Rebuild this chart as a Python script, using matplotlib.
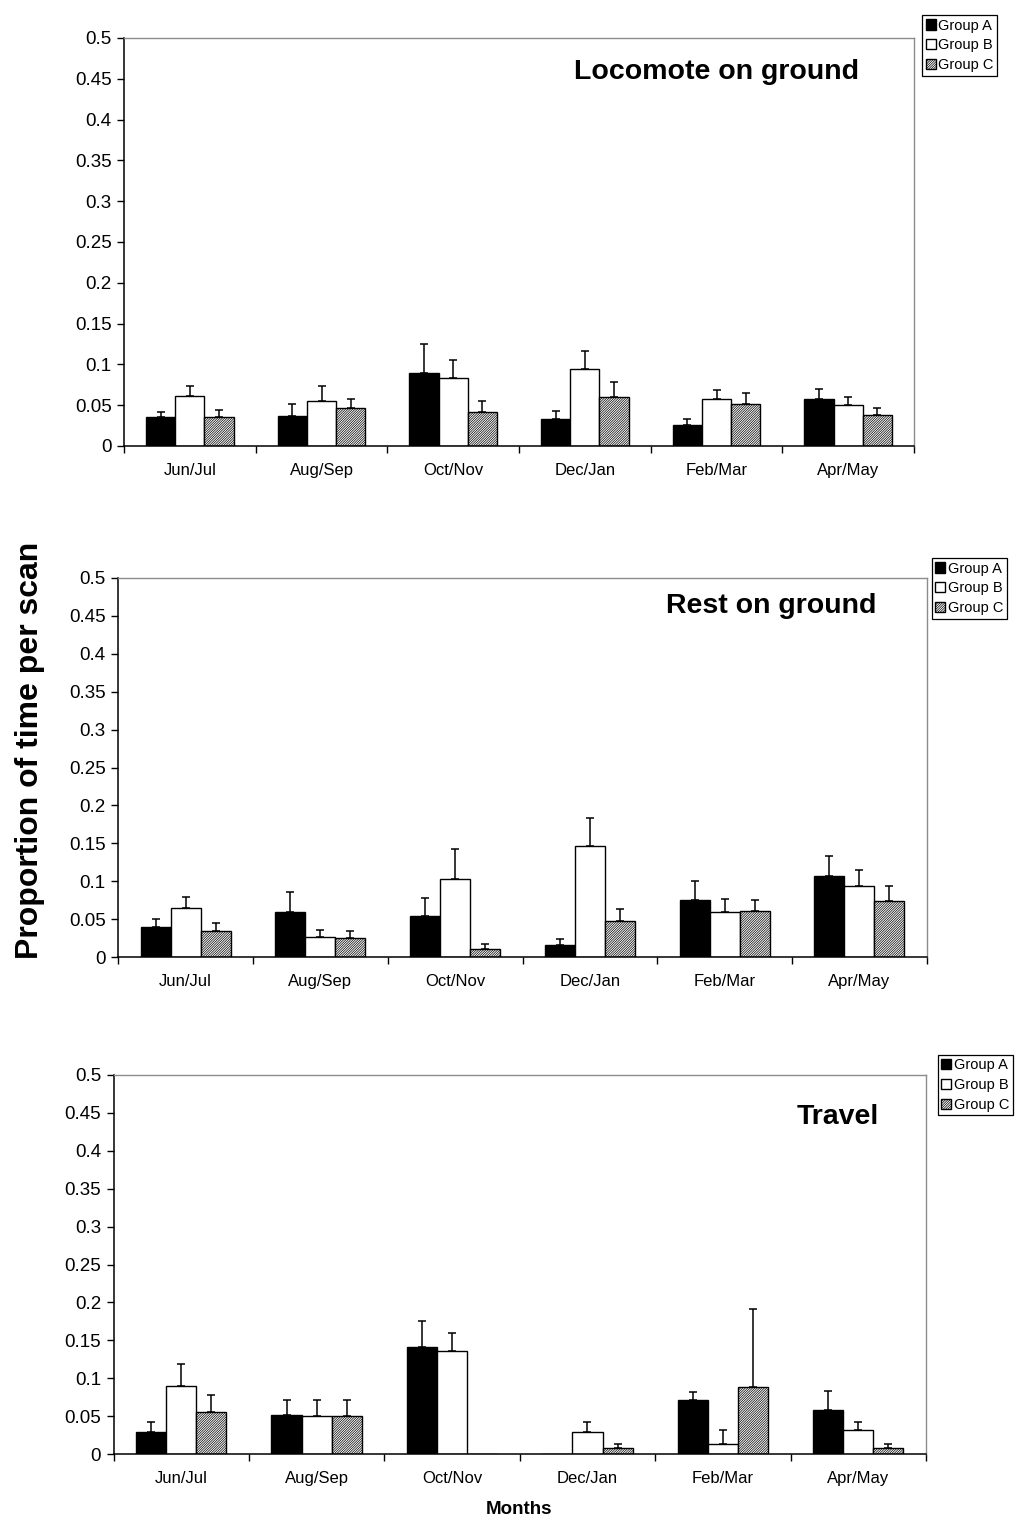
import matplotlib
matplotlib.use("Agg")
import matplotlib.pyplot as plt
import numpy as np

plt.rcParams['font.family'] = ['Liberation Sans', 'DejaVu Sans']
plt.rcParams['hatch.linewidth'] = 0.5

months = ["Jun/Jul", "Aug/Sep", "Oct/Nov", "Dec/Jan", "Feb/Mar", "Apr/May"]
groups = ["Group A", "Group B", "Group C"]

# Locomote on ground: means and upper error (SE) per group
loco_a = [0.035, 0.037, 0.089, 0.033, 0.026, 0.058]
loco_b = [0.061, 0.055, 0.083, 0.094, 0.057, 0.050]
loco_c = [0.036, 0.047, 0.042, 0.060, 0.051, 0.038]
loco_a_err = [0.007, 0.014, 0.036, 0.010, 0.007, 0.012]
loco_b_err = [0.013, 0.018, 0.022, 0.023, 0.012, 0.010]
loco_c_err = [0.008, 0.011, 0.013, 0.019, 0.014, 0.008]

# Rest on ground
rest_a = [0.040, 0.060, 0.055, 0.016, 0.076, 0.107]
rest_b = [0.065, 0.027, 0.103, 0.146, 0.060, 0.094]
rest_c = [0.034, 0.025, 0.011, 0.048, 0.061, 0.074]
rest_a_err = [0.011, 0.026, 0.023, 0.008, 0.025, 0.027]
rest_b_err = [0.015, 0.009, 0.040, 0.038, 0.017, 0.021]
rest_c_err = [0.011, 0.010, 0.007, 0.015, 0.014, 0.020]

# Travel
trav_a = [0.029, 0.052, 0.141, 0.000, 0.072, 0.058]
trav_b = [0.090, 0.051, 0.136, 0.029, 0.013, 0.032]
trav_c = [0.056, 0.051, 0.000, 0.008, 0.088, 0.008]
trav_a_err = [0.014, 0.019, 0.034, 0.000, 0.010, 0.025]
trav_b_err = [0.029, 0.020, 0.024, 0.014, 0.019, 0.010]
trav_c_err = [0.022, 0.021, 0.000, 0.006, 0.104, 0.005]

yticks = [0, 0.05, 0.1, 0.15, 0.2, 0.25, 0.3, 0.35, 0.4, 0.45, 0.5]
ytick_labels = ["0", "0.05", "0.1", "0.15", "0.2", "0.25", "0.3", "0.35", "0.4", "0.45", "0.5"]

W, H = 1021, 1521
fig = plt.figure(figsize=(W / 100, H / 100), dpi=100)


def px_axes(left, right, top, bottom):
    return fig.add_axes([left / W, 1 - bottom / H, (right - left) / W, (bottom - top) / H])


panels = [
    dict(box=(124, 914, 38, 446), title="Locomote on ground", title_xy=(716, 72),
         legend_xy=(922, 15),
         vals=(loco_a, loco_b, loco_c), errs=(loco_a_err, loco_b_err, loco_c_err)),
    dict(box=(118.3, 926.7, 577.7, 957.3), title="Rest on ground", title_xy=(771, 606),
         legend_xy=(931.5, 558),
         vals=(rest_a, rest_b, rest_c), errs=(rest_a_err, rest_b_err, rest_c_err)),
    dict(box=(113.5, 926, 1074.7, 1454.3), title="Travel", title_xy=(838, 1117),
         legend_xy=(937.5, 1054.5),
         vals=(trav_a, trav_b, trav_c), errs=(trav_a_err, trav_b_err, trav_c_err)),
]

styles = [
    dict(facecolor="black", edgecolor="black", hatch=None),
    dict(facecolor="white", edgecolor="black", hatch=None),
    dict(facecolor="white", edgecolor="black", hatch="//////////////"),
]

bw = 1 / 4.5
x = np.arange(len(months)) + 0.5

for p in panels:
    ax = px_axes(*p["box"])
    handles = []
    for i, (vals, errs, st) in enumerate(zip(p["vals"], p["errs"], styles)):
        xi = x + (i - 1) * bw
        b = ax.bar(xi, vals, width=bw, facecolor=st["facecolor"], edgecolor=st["edgecolor"],
                   hatch=st["hatch"], linewidth=1.0, zorder=2, label=groups[i])
        handles.append(b)
        has_err = np.array(errs) > 0
        ax.errorbar(xi[has_err], np.array(vals)[has_err],
                    yerr=[np.zeros(has_err.sum()), np.array(errs)[has_err]],
                    fmt="none", ecolor="black", elinewidth=1.1, capsize=2.6,
                    capthick=1.1, zorder=3)

    ax.set_xlim(0, len(months))
    ax.set_ylim(0, 0.5)
    ax.set_yticks(yticks)
    ax.set_yticklabels(ytick_labels, fontsize=13.5)
    ax.set_xticks(np.arange(len(months) + 1))
    ax.set_xticklabels([])
    ax.set_xticks(x, minor=True)
    ax.set_xticklabels(months, minor=True, fontsize=12)
    ax.tick_params(axis="x", which="major", direction="out", length=5, width=1)
    ax.tick_params(axis="x", which="minor", length=0, pad=12)
    ax.tick_params(axis="y", direction="out", length=5, width=1, pad=4)
    for s in ("left", "bottom"):
        ax.spines[s].set_color("black")
        ax.spines[s].set_linewidth(1.1)
    for s in ("top", "right"):
        ax.spines[s].set_color("#8c8c8c")
        ax.spines[s].set_linewidth(1.0)

    fig.text(p["title_xy"][0] / W, 1 - p["title_xy"][1] / H, p["title"],
             fontsize=20.5, fontweight="bold", ha="center", va="center")

    lx, ly = p["legend_xy"]
    leg = fig.legend(handles=handles, loc="upper left",
                     bbox_to_anchor=(lx / W, 1 - ly / H), bbox_transform=fig.transFigure,
                     fontsize=10.5, frameon=True, fancybox=False, edgecolor="black",
                     framealpha=1, borderpad=0.25, handlelength=0.7, handleheight=0.7,
                     handletextpad=0.15, labelspacing=0.4, borderaxespad=0)
    leg.get_frame().set_linewidth(0.9)

fig.text(30 / W, 1 - 750 / H, "Proportion of time per scan", rotation=90,
         fontsize=23, fontweight="bold", ha="center", va="center")
fig.text(519 / W, 1 - 1509 / H, "Months", fontsize=13.5, fontweight="bold",
         ha="center", va="center")

fig.savefig("out.png", dpi=100, facecolor="white")
